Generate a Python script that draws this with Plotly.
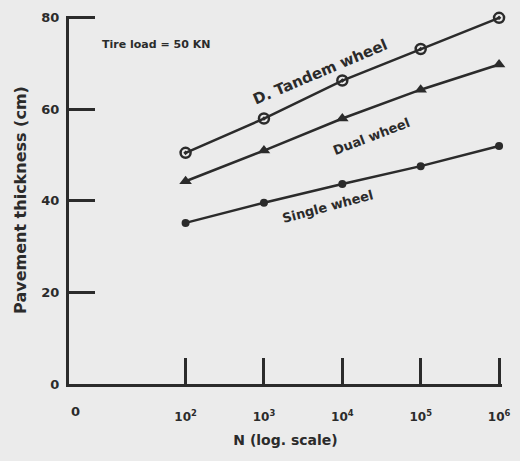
import plotly.graph_objects as go

N = [1e2, 1e3, 1e4, 1e5, 1e6]
tandem = [50.5, 58, 66.3, 73.2, 80]
dual = [44.3, 51, 58, 64.3, 69.8]
single = [35.2, 39.6, 43.7, 47.6, 52]
xtick_vals = [1e2, 1e3, 1e4, 1e5, 1e6]
xtick_text = ["10<sup>2</sup>", "10<sup>3</sup>", "10<sup>4</sup>", "10<sup>5</sup>", "10<sup>6</sup>"]
ytick_vals = [0, 20, 40, 60, 80]

INK = "#2b2b2b"
FONT = "DejaVu Sans"

fig = go.Figure()
fig.add_trace(go.Scatter(x=N, y=tandem, mode="lines+markers", cliponaxis=False,
                         line=dict(color=INK, width=2.5),
                         marker=dict(symbol="circle-open-dot", size=10, color=INK,
                                     line=dict(width=2.5, color=INK))))
fig.add_trace(go.Scatter(x=N, y=dual, mode="lines+markers", cliponaxis=False,
                         line=dict(color=INK, width=2.5),
                         marker=dict(symbol="triangle-up", size=11, color=INK)))
fig.add_trace(go.Scatter(x=N, y=single, mode="lines+markers", cliponaxis=False,
                         line=dict(color=INK, width=2.5),
                         marker=dict(symbol="circle", size=8, color=INK)))

fig.update_layout(
    width=520, height=461,
    margin=dict(l=69, r=10, t=13, b=77),
    paper_bgcolor="#ebebeb", plot_bgcolor="#ebebeb",
    showlegend=False,
    font=dict(family=FONT, color=INK, size=13),
)
fig.update_xaxes(type="log", range=[0.5125, 6.0375],
                 tickvals=xtick_vals, ticktext=xtick_text,
                 ticks="inside", ticklen=26, tickwidth=3, tickcolor=INK,
                 ticklabelstandoff=20,
                 showline=True, linewidth=3, linecolor=INK,
                 showgrid=False, zeroline=False,
                 tickfont=dict(family=FONT, size=12, color=INK, weight="bold"),
                 title=dict(text="N (log. scale)", standoff=12,
                            font=dict(family=FONT, size=14, color=INK, weight="bold")))
fig.update_yaxes(range=[0, 80.4], tickvals=ytick_vals,
                 ticks="inside", ticklen=26, tickwidth=3, tickcolor=INK,
                 ticklabelstandoff=4,
                 showline=True, linewidth=3, linecolor=INK,
                 showgrid=False, zeroline=False,
                 tickfont=dict(family=FONT, size=13, color=INK, weight="bold"),
                 title=dict(text="Pavement thickness (cm)", standoff=11,
                            font=dict(family=FONT, size=16, color=INK, weight="bold")))

def ann(text, x, y, angle=0, size=13):
    fig.add_annotation(text=text, x=x, y=y, xref="x", yref="y", showarrow=False,
                       textangle=angle,
                       font=dict(family=FONT, size=size, color=INK, weight="bold"))

ann("Tire load = 50 KN", 1.62, 74.1, 0, 11)
ann("D. Tandem wheel", 3.72, 68.2, -23, 15)
ann("Dual wheel", 4.372, 54.0, -21, 13)
ann("Single wheel", 3.821, 38.8, -15, 13)
fig.add_annotation(text="0", x=0, y=0, xref="paper", yref="paper", yshift=-37,
                   showarrow=False, font=dict(family=FONT, size=13, color=INK, weight="bold"))

fig.write_html("out.html")
